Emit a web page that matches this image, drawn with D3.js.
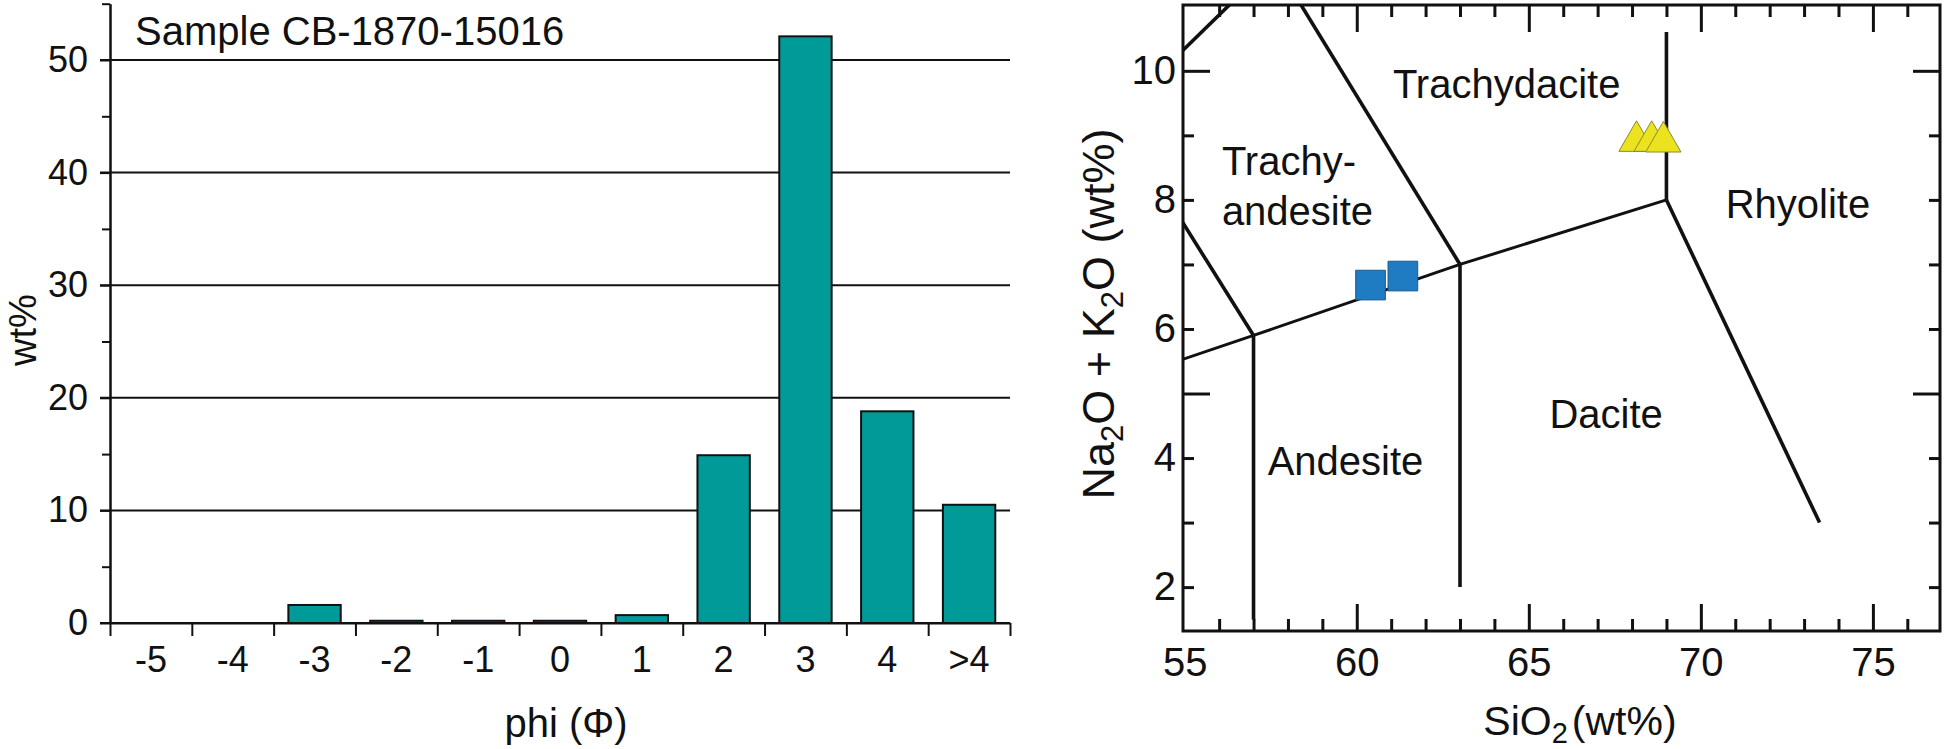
<!DOCTYPE html>
<html><head><meta charset="utf-8">
<script src="https://cdn.jsdelivr.net/npm/d3@7"></script>
<style>
body{margin:0;background:#fff}
svg text{font-family:"Liberation Sans",Arial,Helvetica,sans-serif;fill:#111}
</style>
</head><body>
<svg id="c" width="1946" height="749"></svg>
<script>
// ---------- Left chart data (grain-size histogram) ----------
const phiCategories = ["-5","-4","-3","-2","-1","0","1","2","3","4",">4"];
const wtPercent     = [0, 0, 1.6, 0.2, 0.2, 0.2, 0.7, 14.9, 52.1, 18.8, 10.5];
const barYMajorTicks = [0,10,20,30,40,50];
const barYMinorTicks = [5,15,25,35,45,55];
const sampleTitle = "Sample CB-1870-15016";
const barXTitle = "phi (\u03A6)";
const barYTitle = "wt%";

// ---------- Right chart data (TAS diagram) ----------
const tasXLabelTicks = [55,60,65,70,75];
const tasXMajorTicks = [60,65,70,75];
const tasXMinorTicks = [56,57,58,59,61,62,63,64,66,67,68,69,71,72,73,74,76];
const tasYLabelTicks = [2,4,6,8,10];
const tasYMajorTicks = [5,10];
const tasYMinorTicks = [2,3,4,6,7,8,9];
// boundary segments [SiO2, Na2O+K2O]
const tasBoundaries = [
  [[52,5],[57,5.9]],
  [[57,5.9],[63,7]],
  [[63,7],[69,8]],
  [[57,1.5],[57,5.9]],
  [[63,2],[63,7]],
  [[69,8],[73.45,3]],
  [[69,8],[69,10.6]],
  [[53,9.3],[57,5.9]],
  [[57.6,11.7],[63,7]],
  [[53,9.3],[57.6,11.7]]
];
// field names, anchored at [SiO2, alkali] of label start / baseline
const fieldNames = ["Trachydacite","Trachy-","andesite","Rhyolite","Dacite","Andesite"];
const fieldSiO2  = [61.05, 56.08, 56.08, 70.72, 65.6, 57.41];
const fieldAlk   = [9.58, 8.38, 7.61, 7.72, 4.47, 3.74];
// samples
const squareSiO2 = [60.4, 61.34];
const squareAlk  = [6.68, 6.82];
const triSiO2 = [68.13, 68.57, 68.91];
const triAlk  = [8.91, 8.91, 8.9];

const svg = d3.select("#c");
const ink = "#111";

// ================= LEFT CHART =================
const yL = d3.scaleLinear().domain([0,55]).range([623,3.7]);
const xEdge = d3.scaleLinear().domain([0,11]).range([110,1010]);
const xBand = d3.scaleBand().domain(phiCategories).range([110,1010]).paddingInner(0.36).paddingOuter(0.18);

const gL = svg.append("g");
// gridlines
gL.append("g").selectAll("line").data(barYMajorTicks).join("line")
  .attr("x1",100).attr("x2",1010)
  .attr("y1",d=>yL(d)).attr("y2",d=>yL(d))
  .attr("stroke",ink).attr("stroke-width",2);

// bars
gL.append("g").selectAll("rect").data(wtPercent).join("rect")
  .attr("x",(d,i)=>xBand(phiCategories[i]))
  .attr("width",xBand.bandwidth())
  .attr("y",d=>yL(d))
  .attr("height",d=>yL(0)-yL(d))
  .attr("fill","#009b98").attr("stroke",ink).attr("stroke-width",2)
  .attr("display",d=>d>0?null:"none");

// y axis
const yAxisMajor = gL.append("g").attr("transform","translate(110,0)")
  .call(d3.axisLeft(yL).tickValues(barYMajorTicks).tickSize(10).tickSizeOuter(0).tickPadding(12));
yAxisMajor.selectAll("text").attr("font-size",36).attr("fill",ink);
const yAxisMinor = gL.append("g").attr("transform","translate(110,0)")
  .call(d3.axisLeft(yL).tickValues(barYMinorTicks).tickSize(8).tickSizeOuter(0).tickFormat(""));
gL.selectAll(".domain, .tick line").attr("stroke",ink).attr("stroke-width",2);

// x axis
const xTickAxis = gL.append("g").attr("transform",`translate(0,${yL(0)})`)
  .call(d3.axisBottom(xEdge).tickValues(d3.range(0,12)).tickSize(13).tickSizeOuter(0).tickFormat(""));
xTickAxis.selectAll(".domain,.tick line").attr("stroke",ink).attr("stroke-width",2);
const xLabAxis = gL.append("g").attr("transform",`translate(0,${yL(0)})`)
  .call(d3.axisBottom(xBand).tickSize(0).tickPadding(23));
xLabAxis.select(".domain").remove();
xLabAxis.selectAll("text").attr("font-size",36).attr("fill",ink);

// titles
gL.append("text").attr("x",135).attr("y",45).attr("font-size",40).text(sampleTitle);
gL.append("text").attr("x",566).attr("y",737).attr("text-anchor","middle").attr("font-size",40).text(barXTitle);
gL.append("text").attr("transform","translate(36,330) rotate(-90)").attr("text-anchor","middle").attr("font-size",38).text(barYTitle);

// ================= RIGHT CHART =================
const xR = d3.scaleLinear().domain([54.95,76.95]).range([1183,1940]);
const yR = d3.scaleLinear().domain([1.32,11.02]).range([631,5]);
const [rx0,rx1] = xR.range(), [ry0,ry1] = yR.range();
const gR = svg.append("g");

gR.append("clipPath").attr("id","frameClip").append("rect")
  .attr("x",rx0).attr("y",ry1).attr("width",rx1-rx0).attr("height",ry0-ry1);

function tickAxis(axisFn, scale, vals, size, tx, ty){
  const g = gR.append("g").attr("transform",`translate(${tx},${ty})`)
    .call(axisFn(scale).tickValues(vals).tickSizeInner(-size).tickSizeOuter(0).tickFormat(""));
  g.select(".domain").remove();
  g.selectAll(".tick line").attr("stroke",ink).attr("stroke-width",3);
  return g;
}
tickAxis(d3.axisBottom, xR, tasXMinorTicks, 12, 0, ry0);
tickAxis(d3.axisBottom, xR, tasXMajorTicks, 27, 0, ry0);
tickAxis(d3.axisTop, xR, tasXMinorTicks, 12, 0, ry1);
tickAxis(d3.axisTop, xR, tasXMajorTicks, 27, 0, ry1);
tickAxis(d3.axisLeft, yR, tasYMinorTicks, 11, rx0, 0);
tickAxis(d3.axisLeft, yR, tasYMajorTicks, 27, rx0, 0);
tickAxis(d3.axisRight, yR, tasYMinorTicks, 11, rx1, 0);
tickAxis(d3.axisRight, yR, tasYMajorTicks, 27, rx1, 0);

// labels
const xLab = gR.append("g").attr("transform",`translate(0,${ry0})`)
  .call(d3.axisBottom(xR).tickValues(tasXLabelTicks).tickSize(0).tickPadding(17));
xLab.select(".domain").remove();
xLab.selectAll("text").attr("font-size",40).attr("fill",ink);
const yLab = gR.append("g").attr("transform",`translate(${rx0},0)`)
  .call(d3.axisLeft(yR).tickValues(tasYLabelTicks).tickSize(0).tickPadding(7));
yLab.select(".domain").remove();
yLab.selectAll("text").attr("font-size",40).attr("fill",ink);

// boundaries
const line = d3.line().x(d=>xR(d[0])).y(d=>yR(d[1]));
gR.append("g").attr("clip-path","url(#frameClip)").selectAll("path").data(tasBoundaries).join("path")
  .attr("d",line).attr("fill","none").attr("stroke",ink)
  .attr("stroke-width",(d,i)=>i<3?3:3.6).attr("stroke-linecap","butt");

// frame
gR.append("rect").attr("x",rx0).attr("y",ry1).attr("width",rx1-rx0).attr("height",ry0-ry1)
  .attr("fill","none").attr("stroke",ink).attr("stroke-width",3);

// field names
gR.append("g").selectAll("text").data(fieldNames).join("text")
  .attr("x",(d,i)=>xR(fieldSiO2[i])).attr("y",(d,i)=>yR(fieldAlk[i]))
  .attr("font-size",40).text(d=>d);

// samples
gR.append("g").selectAll("path").data(squareSiO2).join("path")
  .attr("transform",(d,i)=>`translate(${xR(d)},${yR(squareAlk[i])})`)
  .attr("d",d3.symbol(d3.symbolSquare,880)())
  .attr("fill","#1f7bc2").attr("stroke","#1a5a92").attr("stroke-width",1);
gR.append("g").selectAll("path").data(triSiO2).join("path")
  .attr("transform",(d,i)=>`translate(${xR(d)},${yR(triAlk[i])})`)
  .attr("d",d3.symbol(d3.symbolTriangle,540)())
  .attr("fill","#ebe31e").attr("stroke","#8d8a2c").attr("stroke-width",1);

// axis titles
const yt = gR.append("text").attr("transform","translate(1114,314) rotate(-90)")
  .attr("text-anchor","middle").attr("font-size",45);
yt.append("tspan").text("Na");
yt.append("tspan").attr("font-size",31).attr("dy",9).text("2");
yt.append("tspan").attr("dy",-9).text("O + K");
yt.append("tspan").attr("font-size",31).attr("dy",9).text("2");
yt.append("tspan").attr("dy",-9).text("O (wt%)");

const xt = gR.append("text").attr("x",1580).attr("y",735).attr("text-anchor","middle").attr("font-size",41);
xt.append("tspan").text("SiO");
xt.append("tspan").attr("font-size",29).attr("dy",8).text("2");
xt.append("tspan").attr("dy",-8).attr("dx",4).text("(wt%)");
</script>
</body></html>
